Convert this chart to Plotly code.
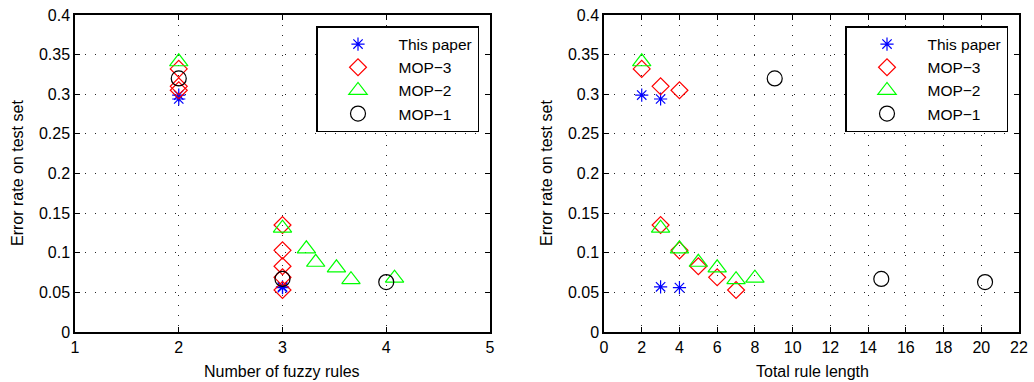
import plotly.graph_objects as go

# ---- data ----
series_names = ["This paper", "MOP\u22123", "MOP\u22122", "MOP\u22121"]

# Left panel: number of fuzzy rules
rules_this = [2, 2, 3, 3]
rules_mop3 = [2, 2, 2, 3, 3, 3, 3, 3]
rules_mop2 = [2, 3, 3.23, 3.32, 3.52, 3.66, 4.08]
rules_mop1 = [2, 3, 4]

# Right panel: total rule length
len_this = [2, 3, 3, 4]
len_mop3 = [2, 3, 4, 3, 4, 5, 6, 7]
len_mop2 = [2, 3, 4, 5, 6, 7, 8]
len_mop1 = [9.05, 14.7, 20.2]

# Error rates on test set (shared by both panels)
err_this = [0.299, 0.294, 0.057, 0.056]
err_mop3 = [0.332, 0.310, 0.305, 0.135, 0.103, 0.083, 0.069, 0.053]
err_mop2 = [0.341, 0.131, 0.105, 0.088, 0.081, 0.066, 0.068]
err_mop1 = [0.320, 0.067, 0.063]

left_ticks = [1, 2, 3, 4, 5]
right_ticks = list(range(0, 23, 2))
y_ticks = [0, 0.05, 0.1, 0.15, 0.2, 0.25, 0.3, 0.35, 0.4]
y_ticktext = ["0", "0.05", "0.1", "0.15", "0.2", "0.25", "0.3", "0.35", "0.4"]

xtitle_left = "Number of fuzzy rules"
xtitle_right = "Total rule length"
ytitle = "Error rate on test set"

# ---- styles ----
styles = [
    dict(symbol="asterisk-open", size=11, color="#0000FF", line=dict(color="#0000FF", width=1.2)),
    dict(symbol="diamond-open", size=13, color="#FF0000", line=dict(color="#FF0000", width=1.2)),
    dict(symbol="triangle-up-open", size=16, color="#00FF00", line=dict(color="#00FF00", width=1.2)),
    dict(symbol="circle-open", size=15, color="#000000", line=dict(color="#000000", width=1.2)),
]

FONT = "Liberation Sans, Arial, Helvetica, sans-serif"
W, H = 1034, 382

fig = go.Figure()

left_data = [(rules_this, err_this), (rules_mop3, err_mop3), (rules_mop2, err_mop2), (rules_mop1, err_mop1)]
right_data = [(len_this, err_this), (len_mop3, err_mop3), (len_mop2, err_mop2), (len_mop1, err_mop1)]

for name, st, (x, y) in zip(series_names, styles, left_data):
    fig.add_trace(go.Scatter(x=x, y=y, mode="markers", name=name, marker=st,
                             xaxis="x", yaxis="y", legend="legend"))
for name, st, (x, y) in zip(series_names, styles, right_data):
    fig.add_trace(go.Scatter(x=x, y=y, mode="markers", name=name, marker=st,
                             xaxis="x2", yaxis="y2", legend="legend2"))

y0, y1 = (H - 332) / H, (H - 15) / H

axis_common = dict(
    showline=True, linecolor="black", linewidth=1.5, mirror="ticks",
    ticks="inside", ticklen=5, tickcolor="black", tickwidth=1,
    showgrid=True, gridcolor="rgba(0,0,0,0.85)", gridwidth=1, griddash="1px,9px",
    zeroline=False, automargin=False,
    tickfont=dict(family=FONT, size=16, color="black"),
)

legend_common = dict(
    xanchor="right", yanchor="top", bordercolor="black", borderwidth=1.5,
    bgcolor="white", font=dict(family=FONT, size=15.5), itemwidth=71, tracegroupgap=0,
)

fig.update_layout(
    width=W, height=H,
    margin=dict(l=0, r=0, t=0, b=0),
    paper_bgcolor="white", plot_bgcolor="white",
    font=dict(family=FONT, size=16, color="black"),
    xaxis=dict(domain=[75 / W, 490 / W], range=[1, 5], tickvals=left_ticks, anchor="y", **axis_common),
    yaxis=dict(domain=[y0, y1], range=[0, 0.4], tickvals=y_ticks, ticktext=y_ticktext, anchor="x", **axis_common),
    xaxis2=dict(domain=[604 / W, 1019 / W], range=[0, 22], tickvals=right_ticks, anchor="y2", **axis_common),
    yaxis2=dict(domain=[y0, y1], range=[0, 0.4], tickvals=y_ticks, ticktext=y_ticktext, anchor="x2", **axis_common),
    legend=dict(x=479 / W, y=(H - 26) / H, **legend_common),
    legend2=dict(x=1008 / W, y=(H - 26) / H, **legend_common),
    showlegend=True,
)

ann_font = dict(family=FONT, size=16, color="black")
fig.add_annotation(text=xtitle_left, xref="paper", yref="paper", x=282 / W, y=(H - 371) / H,
                   showarrow=False, font=ann_font, xanchor="center", yanchor="middle")
fig.add_annotation(text=xtitle_right, xref="paper", yref="paper", x=812 / W, y=(H - 371) / H,
                   showarrow=False, font=ann_font, xanchor="center", yanchor="middle")
fig.add_annotation(text=ytitle, xref="paper", yref="paper", x=17 / W, y=(H - 173) / H,
                   showarrow=False, font=ann_font, xanchor="center", yanchor="middle", textangle=-90)
fig.add_annotation(text=ytitle, xref="paper", yref="paper", x=546 / W, y=(H - 173) / H,
                   showarrow=False, font=ann_font, xanchor="center", yanchor="middle", textangle=-90)

fig.write_html("out.html", config={"displayModeBar": False},
               post_script="document.body.style.margin='0';document.body.style.overflow='hidden';")
